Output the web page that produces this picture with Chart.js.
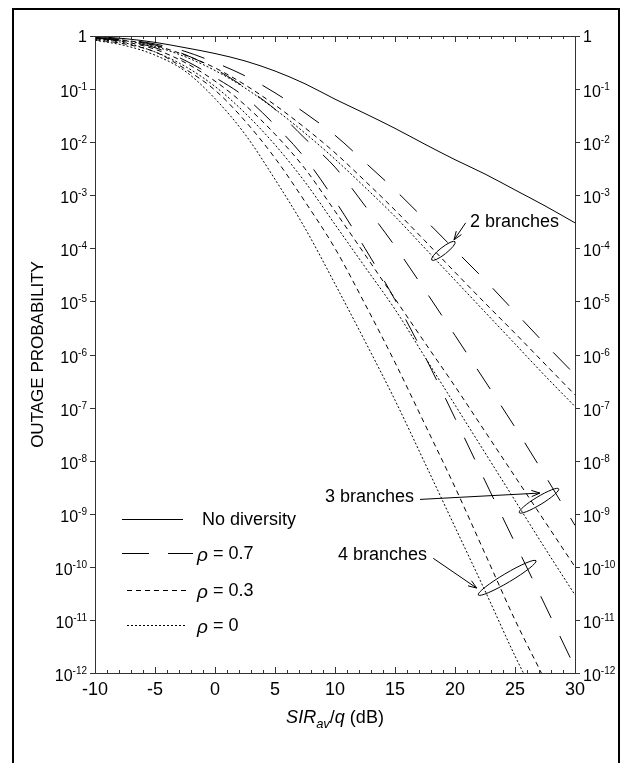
<!DOCTYPE html>
<html>
<head>
<meta charset="utf-8">
<script src="https://cdn.jsdelivr.net/npm/chart.js@4.4.1/dist/chart.umd.min.js"></script>
<style>
  html, body { margin: 0; padding: 0; background: #fff; }
  #wrap { width: 632px; height: 763px; }
</style>
</head>
<body>
<div id="wrap"><canvas id="outageChart" width="632" height="763"></canvas></div>
<script>
// =======================
// Data (log10 of outage probability)
// =======================
const sirDb = [-10, -7.5, -5, -2.5, 0, 2.5, 5, 7.5, 10, 12.5, 15, 17.5, 20, 22.5, 25, 27.5, 30];
const sirDbFourRho03 = [-10, -7.5, -5, -2.5, 0, 2.5, 5, 7.5, 10, 12.5, 15, 17.5, 20, 22.5, 25, 27.2];
const sirDbFourRho0 = [-10, -7.5, -5, -2.5, 0, 2.5, 5, 7.5, 10, 12.5, 15, 17.5, 20, 22.5, 25, 25.7];

const noDiversity    = [-0.01, -0.05, -0.12, -0.22, -0.33, -0.47, -0.66, -0.90, -1.19, -1.46, -1.74, -2.04, -2.33, -2.60, -2.90, -3.20, -3.52];
const twoBranchRho07 = [-0.03, -0.07, -0.15, -0.29, -0.50, -0.75, -1.07, -1.45, -1.87, -2.38, -2.90, -3.46, -4.03, -4.60, -5.20, -5.80, -6.38];
const twoBranchRho03 = [-0.03, -0.08, -0.18, -0.36, -0.60, -0.92, -1.30, -1.73, -2.20, -2.73, -3.28, -3.86, -4.45, -5.03, -5.60, -6.18, -6.76];
const twoBranchRho0  = [-0.04, -0.09, -0.20, -0.39, -0.65, -0.98, -1.38, -1.83, -2.32, -2.85, -3.40, -4.00, -4.60, -5.20, -5.80, -6.40, -6.98];
const threeBranchRho07 = [-0.03, -0.08, -0.17, -0.35, -0.62, -0.97, -1.38, -1.93, -2.47, -3.20, -3.96, -4.79, -5.64, -6.50, -7.37, -8.28, -9.22];
const threeBranchRho03 = [-0.05, -0.11, -0.25, -0.50, -0.85, -1.30, -1.85, -2.50, -3.30, -4.12, -4.95, -5.78, -6.60, -7.45, -8.30, -9.15, -10.0];
const threeBranchRho0  = [-0.06, -0.13, -0.30, -0.57, -0.95, -1.45, -2.05, -2.75, -3.55, -4.35, -5.15, -6.05, -6.95, -7.85, -8.75, -9.65, -10.53];
const fourBranchRho07 = [-0.04, -0.10, -0.22, -0.46, -0.78, -1.15, -1.68, -2.30, -3.10, -4.00, -4.97, -6.04, -7.20, -8.38, -9.55, -10.72, -11.90];
const fourBranchRho03 = [-0.07, -0.15, -0.30, -0.62, -1.02, -1.60, -2.30, -3.12, -4.00, -5.05, -6.15, -7.32, -8.50, -9.75, -11.00, -12.0];
const fourBranchRho0  = [-0.08, -0.18, -0.36, -0.66, -1.18, -1.85, -2.70, -3.62, -4.67, -5.75, -6.86, -8.05, -9.25, -10.45, -11.68, -12.0];

const sirTicks = [-10, -5, 0, 5, 10, 15, 20, 25, 30];
const decadeTicks = [0, -1, -2, -3, -4, -5, -6, -7, -8, -9, -10, -11, -12];

// group annotations, in data units (x in dB, y as log10)
const groupLabels = ['2 branches', '3 branches', '4 branches'];
const labelAt    = [[21.25, -3.50], [9.17, -8.68], [10.25, -9.78]];
const arrowFrom  = [[20.89, -3.52], [17.08, -8.73], [18.19, -9.84]];
const arrowTo    = [[19.92, -3.84], [27.08, -8.61], [21.81, -10.40]];
const ellipseEndA = [[18.06, -4.22], [25.36, -8.98], [21.94, -10.53]];
const ellipseEndB = [[20.00, -3.875], [28.64, -8.53], [26.75, -9.885]];
const ellipseHalfWidth = [3.5, 4, 4.5];

// =======================
// Line styles
// =======================
const dashRho07 = [24, 20];
const dashRho03 = [5, 4];
const dashRho0 = [2, 2];
const FONT = '"Liberation Sans", Arial, Helvetica, sans-serif';

const toPoints = (xs, logs) => xs.map((x, i) => ({ x: x, y: Math.pow(10, logs[i]) }));

const curves = [
    { xs: sirDb, logs: noDiversity, dash: [] },
    { xs: sirDb, logs: twoBranchRho07, dash: dashRho07 },
    { xs: sirDb, logs: twoBranchRho03, dash: dashRho03 },
    { xs: sirDb, logs: twoBranchRho0, dash: dashRho0 },
    { xs: sirDb, logs: threeBranchRho07, dash: dashRho07 },
    { xs: sirDb, logs: threeBranchRho03, dash: dashRho03 },
    { xs: sirDb, logs: threeBranchRho0, dash: dashRho0 },
    { xs: sirDb, logs: fourBranchRho07, dash: dashRho07 },
    { xs: sirDbFourRho03, logs: fourBranchRho03, dash: dashRho03 },
    { xs: sirDbFourRho0, logs: fourBranchRho0, dash: dashRho0 }
];

// legend rows (offsets from chart area left / bottom)
const legendRows = [
    { text: 'No diversity', rho: false, dash: [], x0: 27, x1: 88, dy: -154, tx: 107 },
    { text: ' = 0.7', rho: true, dash: [27, 19], x0: 27, x1: 98, dy: -120, tx: 102 },
    { text: ' = 0.3', rho: true, dash: dashRho03, x0: 32, x1: 95, dy: -83, tx: 102 },
    { text: ' = 0', rho: true, dash: dashRho0, x0: 32, x1: 92, dy: -48, tx: 102 }
];

// =======================
// Drawing helpers
// =======================
function drawPower(ctx, xAnchor, yMid, e, alignRight) {
    if (e === 0) {
        ctx.font = '16px ' + FONT;
        ctx.textBaseline = 'alphabetic';
        ctx.textAlign = alignRight ? 'right' : 'left';
        ctx.fillText('1', xAnchor, yMid + 6);
        return;
    }
    ctx.textAlign = 'left';
    ctx.textBaseline = 'alphabetic';
    ctx.font = '16px ' + FONT;
    const baseW = ctx.measureText('10').width;
    ctx.font = '10px ' + FONT;
    const expW = ctx.measureText(String(e)).width;
    const x0 = alignRight ? xAnchor - baseW - expW : xAnchor;
    ctx.font = '16px ' + FONT;
    ctx.fillText('10', x0, yMid + 8);
    ctx.font = '10px ' + FONT;
    ctx.fillText(String(e), x0 + baseW, yMid + 1);
}

function drawArrow(ctx, x0, y0, x1, y1) {
    ctx.beginPath();
    ctx.moveTo(x0, y0);
    ctx.lineTo(x1, y1);
    const ang = Math.atan2(y1 - y0, x1 - x0);
    const len = 9, spread = 0.35;
    ctx.moveTo(x1 - len * Math.cos(ang - spread), y1 - len * Math.sin(ang - spread));
    ctx.lineTo(x1, y1);
    ctx.lineTo(x1 - len * Math.cos(ang + spread), y1 - len * Math.sin(ang + spread));
    ctx.stroke();
}

const figureDecor = {
    id: 'figureDecor',
    afterDraw(chart) {
        const { ctx, chartArea: a, scales } = chart;
        const xs = scales.x, ys = scales.y;
        const px = v => xs.getPixelForValue(v);
        const py = e => ys.getPixelForValue(Math.pow(10, e));
        ctx.save();
        ctx.setLineDash([]);

        // outer frame of the figure
        ctx.strokeStyle = '#000';
        ctx.lineWidth = 2;
        ctx.strokeRect(13, 9, 606, 800);

        // plot box
        ctx.strokeStyle = '#333';
        ctx.lineWidth = 1;
        ctx.strokeRect(a.left + 0.5, a.top + 0.5, a.right - a.left, a.bottom - a.top);

        // x ticks (inward, bottom and top)
        ctx.beginPath();
        for (let v = -10; v <= 30; v++) {
            const x = Math.round(px(v)) + 0.5;
            const len = v % 5 === 0 ? 6 : 3;
            ctx.moveTo(x, a.bottom);
            ctx.lineTo(x, a.bottom - len);
            ctx.moveTo(x, a.top);
            ctx.lineTo(x, a.top + len);
        }
        // y ticks (outward, both sides)
        decadeTicks.forEach(e => {
            const y = Math.round(py(e)) + 0.5;
            ctx.moveTo(a.left - 5, y);
            ctx.lineTo(a.left, y);
            ctx.moveTo(a.right, y);
            ctx.lineTo(a.right + 5, y);
        });
        ctx.stroke();

        // tick labels
        ctx.fillStyle = '#000';
        ctx.font = '18px ' + FONT;
        ctx.textAlign = 'center';
        ctx.textBaseline = 'middle';
        sirTicks.forEach(v => ctx.fillText(String(v), px(v), a.bottom + 17));
        decadeTicks.forEach(e => {
            drawPower(ctx, a.left - 8, py(e), e, true);
            drawPower(ctx, a.right + 8, py(e), e, false);
        });

        // y axis title
        ctx.save();
        ctx.translate(38, (a.top + a.bottom) / 2);
        ctx.rotate(-Math.PI / 2);
        ctx.font = '17px ' + FONT;
        ctx.textAlign = 'center';
        ctx.textBaseline = 'middle';
        ctx.fillText('OUTAGE PROBABILITY', 0, 0);
        ctx.restore();

        // x axis title: SIR_av/q (dB)
        const parts = [
            { t: 'SIR', f: 'italic 18px ' + FONT, dy: 0 },
            { t: 'av', f: 'italic 13px ' + FONT, dy: 5 },
            { t: '/', f: '18px ' + FONT, dy: 0 },
            { t: 'q', f: 'italic 18px ' + FONT, dy: 0 },
            { t: ' (dB)', f: '18px ' + FONT, dy: 0 }
        ];
        ctx.textAlign = 'left';
        ctx.textBaseline = 'alphabetic';
        let total = 0;
        parts.forEach(p => { ctx.font = p.f; p.w = ctx.measureText(p.t).width; total += p.w; });
        let cx = (a.left + a.right) / 2 - total / 2;
        parts.forEach(p => { ctx.font = p.f; ctx.fillText(p.t, cx, a.bottom + 50 + p.dy); cx += p.w; });

        // legend inside the plot
        ctx.strokeStyle = '#000';
        legendRows.forEach(r => {
            const y = a.bottom + r.dy + 0.5;
            ctx.setLineDash(r.dash);
            ctx.beginPath();
            ctx.moveTo(a.left + r.x0, y);
            ctx.lineTo(a.left + r.x1, y);
            ctx.stroke();
            ctx.setLineDash([]);
            let tx = a.left + r.tx;
            ctx.textBaseline = 'middle';
            ctx.textAlign = 'left';
            if (r.rho) {
                ctx.font = 'italic 19px ' + FONT;
                ctx.fillText('\u03C1', tx, y + 2);
                tx += ctx.measureText('\u03C1').width;
            }
            ctx.font = '18px ' + FONT;
            ctx.fillText(r.text, tx, y + 1);
        });

        // branch group annotations
        ctx.lineWidth = 1;
        groupLabels.forEach((label, i) => {
            ctx.font = '18px ' + FONT;
            ctx.textAlign = 'left';
            ctx.textBaseline = 'middle';
            ctx.fillText(label, px(labelAt[i][0]), py(labelAt[i][1]));
            drawArrow(ctx, px(arrowFrom[i][0]), py(arrowFrom[i][1]), px(arrowTo[i][0]), py(arrowTo[i][1]));
            const ax = px(ellipseEndA[i][0]), ay = py(ellipseEndA[i][1]);
            const bx = px(ellipseEndB[i][0]), by = py(ellipseEndB[i][1]);
            const rx = Math.hypot(bx - ax, by - ay) / 2;
            ctx.beginPath();
            ctx.ellipse((ax + bx) / 2, (ay + by) / 2, rx, ellipseHalfWidth[i], Math.atan2(by - ay, bx - ax), 0, Math.PI * 2);
            ctx.stroke();
        });

        ctx.restore();
    }
};

// =======================
// Chart
// =======================
const ctx = document.getElementById('outageChart').getContext('2d');
new Chart(ctx, {
    type: 'line',
    data: {
        datasets: curves.map(c => ({
            data: toPoints(c.xs, c.logs),
            borderColor: '#000',
            borderWidth: 1,
            borderDash: c.dash,
            pointRadius: 0,
            fill: false,
            cubicInterpolationMode: 'monotone'
        }))
    },
    options: {
        responsive: false,
        animation: false,
        layout: { padding: { left: 95, top: 36, right: 57, bottom: 90 } },
        plugins: { legend: { display: false }, tooltip: { enabled: false } },
        scales: {
            x: { type: 'linear', min: -10, max: 30, display: false },
            y: { type: 'logarithmic', min: 1e-12, max: 1, display: false }
        }
    },
    plugins: [figureDecor]
});
</script>
</body>
</html>
